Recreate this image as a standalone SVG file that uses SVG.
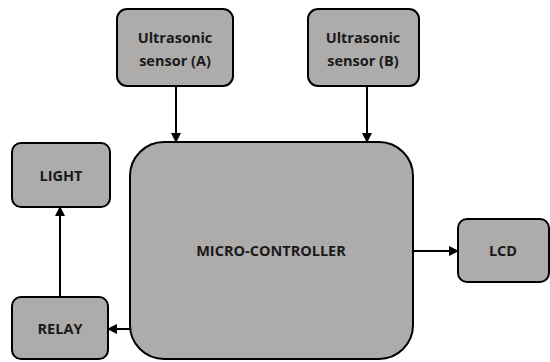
<svg xmlns="http://www.w3.org/2000/svg" width="550" height="362" viewBox="0 0 550 362">
<style>
.box{fill:#aeabab;stroke:#000;stroke-width:2}
.t{font-family:"Open Sans","Liberation Sans",sans-serif;font-weight:bold;font-size:14.5px;fill:#1a1a1a;text-anchor:middle}
.c{stroke:#000;stroke-width:2;fill:none;marker-end:url(#ah)}
</style>
<defs>
<marker id="ah" markerWidth="10" markerHeight="10" refX="9" refY="5" orient="auto" markerUnits="userSpaceOnUse">
<path d="M0,0 L10,5 L0,10 z" fill="#000"/>
</marker>
</defs>
<rect width="550" height="362" fill="#fff"/>
<g id="connectors">
<line class="c" x1="176" y1="86" x2="176" y2="142"/>
<line class="c" x1="367" y1="86" x2="367" y2="142"/>
<line class="c" x1="60" y1="297" x2="60" y2="207"/>
<line class="c" x1="130" y1="329" x2="108" y2="329"/>
<line class="c" x1="413" y1="251" x2="458" y2="251"/>
</g>
<g id="sensorA">
<rect class="box" x="117" y="9" width="116" height="77" rx="10"/>
<text class="t" x="175" y="43">Ultrasonic</text>
<text class="t" x="175" y="66">sensor (A)</text>
</g>
<g id="sensorB">
<rect class="box" x="308" y="9" width="111" height="77" rx="10"/>
<text class="t" x="363" y="43">Ultrasonic</text>
<text class="t" x="363" y="66">sensor (B)</text>
</g>
<g id="mcu">
<rect class="box" x="130" y="142" width="283" height="217" rx="34"/>
<text class="t" x="271" y="256">MICRO-CONTROLLER</text>
</g>
<g id="light">
<rect class="box" x="12" y="143" width="98" height="64" rx="9"/>
<text class="t" x="61" y="181">LIGHT</text>
</g>
<g id="relay">
<rect class="box" x="12" y="297" width="96" height="62" rx="9"/>
<text class="t" x="60" y="334">RELAY</text>
</g>
<g id="lcd">
<rect class="box" x="458" y="219" width="91" height="63" rx="9"/>
<text class="t" x="503" y="256">LCD</text>
</g>
</svg>
